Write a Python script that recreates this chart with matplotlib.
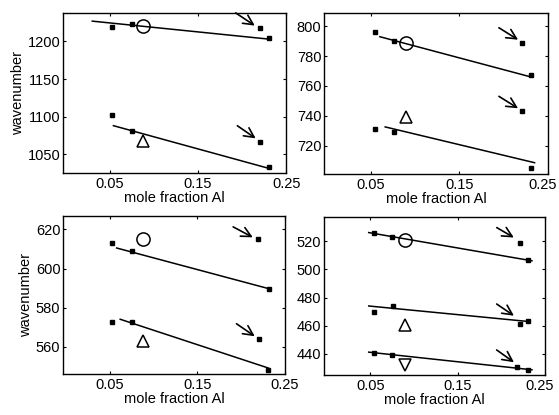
import matplotlib
matplotlib.use("Agg")
import matplotlib.pyplot as plt
import matplotlib.transforms as mtransforms

plt.rcParams['font.family'] = ['Liberation Sans', 'DejaVu Sans']

# panel 1 (top left)
p1_dots_x = [0.052, 0.075, 0.220, 0.231, 0.052, 0.075, 0.220, 0.231]
p1_dots_y = [1219, 1223, 1218, 1204, 1102, 1081, 1066, 1033]
p1_lines = [([0.030, 0.231], [1227, 1203]), ([0.054, 0.231], [1088, 1031])]
p1_open = [('o', 0.088, 1220), ('^', 0.088, 1067)]
p1_arrows = [((0.190, 1240), (0.217, 1219)), ((0.192, 1090), (0.218, 1069))]

# panel 2 (top right)
p2_dots_x = [0.054, 0.076, 0.221, 0.231, 0.055, 0.076, 0.221, 0.231]
p2_dots_y = [796, 790, 789, 767, 731, 729, 743, 705]
p2_lines = [([0.060, 0.231], [793, 766]), ([0.066, 0.235], [732.5, 708.5])]
p2_open = [('o', 0.090, 789), ('^', 0.090, 739)]
p2_arrows = [((0.192, 800), (0.219, 790)), ((0.192, 754), (0.219, 744))]

# panel 3 (bottom left)
p3_dots_x = [0.053, 0.076, 0.219, 0.232, 0.053, 0.076, 0.220, 0.231]
p3_dots_y = [613, 609, 615, 589.6, 572.5, 572.5, 564, 548]
p3_lines = [([0.058, 0.232], [610.5, 589.6]), ([0.062, 0.231], [574, 549])]
p3_open = [('o', 0.088, 615), ('^', 0.088, 563)]
p3_arrows = [((0.188, 622), (0.216, 615.3)), ((0.192, 572.5), (0.218, 564.5))]

# panel 4 (bottom right)
p4_dots_x = [0.054, 0.075, 0.221, 0.231, 0.054, 0.076, 0.221, 0.231,
             0.054, 0.075, 0.218, 0.231]
p4_dots_y = [525.4, 522.6, 518.8, 506.6, 470, 474, 461, 463.7,
             441, 439.4, 431, 428.6]
p4_lines = [([0.048, 0.235], [526, 506]), ([0.048, 0.231], [474, 463]),
            ([0.048, 0.235], [441.3, 428.8])]
p4_open = [('o', 0.090, 520.7), ('^', 0.090, 460.6), ('v', 0.090, 432)]
p4_arrows = [((0.192, 530.5), (0.217, 521.5)), ((0.192, 476.5), (0.217, 466)),
             ((0.192, 444), (0.217, 433))]

panels = [
    ([0.113, 0.583, 0.399, 0.386], (1025, 1238), [1050, 1100, 1150, 1200],
     p1_dots_x, p1_dots_y, p1_lines, p1_open, p1_arrows, True),
    ([0.580, 0.581, 0.400, 0.388], (701, 809), [720, 740, 760, 780, 800],
     p2_dots_x, p2_dots_y, p2_lines, p2_open, p2_arrows, False),
    ([0.113, 0.099, 0.397, 0.381], (546, 627), [560, 580, 600, 620],
     p3_dots_x, p3_dots_y, p3_lines, p3_open, p3_arrows, True),
    ([0.580, 0.096, 0.395, 0.381], (425, 537), [440, 460, 480, 500, 520],
     p4_dots_x, p4_dots_y, p4_lines, p4_open, p4_arrows, False),
]

fig = plt.figure(figsize=(5.59, 4.15), dpi=100)

for rect, ylim, yticks, dx, dy, lines, opens, arrows, ylab in panels:
    ax = fig.add_axes(rect)
    for lx, ly in lines:
        ax.plot(lx, ly, color='black', lw=1.1)
    ax.plot(dx, dy, 's', color='black', ms=2.8, ls='none')
    for m, x, y in opens:
        ax.plot(x, y, m, mfc='none', mec='black', ms=9.5 if m == 'o' else 8, mew=1.1)
    for (x0, y0), (x1, y1) in arrows:
        ax.annotate('', xy=(x1, y1), xytext=(x0, y0),
                    arrowprops=dict(arrowstyle='->,head_length=0.7,head_width=0.35',
                                    color='black', lw=1.2), annotation_clip=False)
    ax.set_xlim(-0.003, 0.25)
    ax.set_ylim(*ylim)
    ax.set_xticks([0.05, 0.15, 0.25])
    ax.set_xticklabels(['0.05', '0.15', '0.25'])
    ax.set_yticks(yticks)
    ax.tick_params(direction='in', length=2, labelsize=10.5, pad=3,
                   top=True, right=True)
    ax.tick_params(axis='y', pad=2)
    if not ylab:
        lab = ax.get_xticklabels()[-1]
        lab.set_transform(lab.get_transform() +
                          mtransforms.ScaledTranslation(-5 / 100, 0, fig.dpi_scale_trans))
    ax.set_xlabel('mole fraction Al', fontsize=10.5, labelpad=0)
    if ylab:
        ax.set_ylabel('wavenumber', fontsize=10.5, labelpad=2)
    for s in ax.spines.values():
        s.set_linewidth(1.0)

fig.savefig('out.png', dpi=100)
